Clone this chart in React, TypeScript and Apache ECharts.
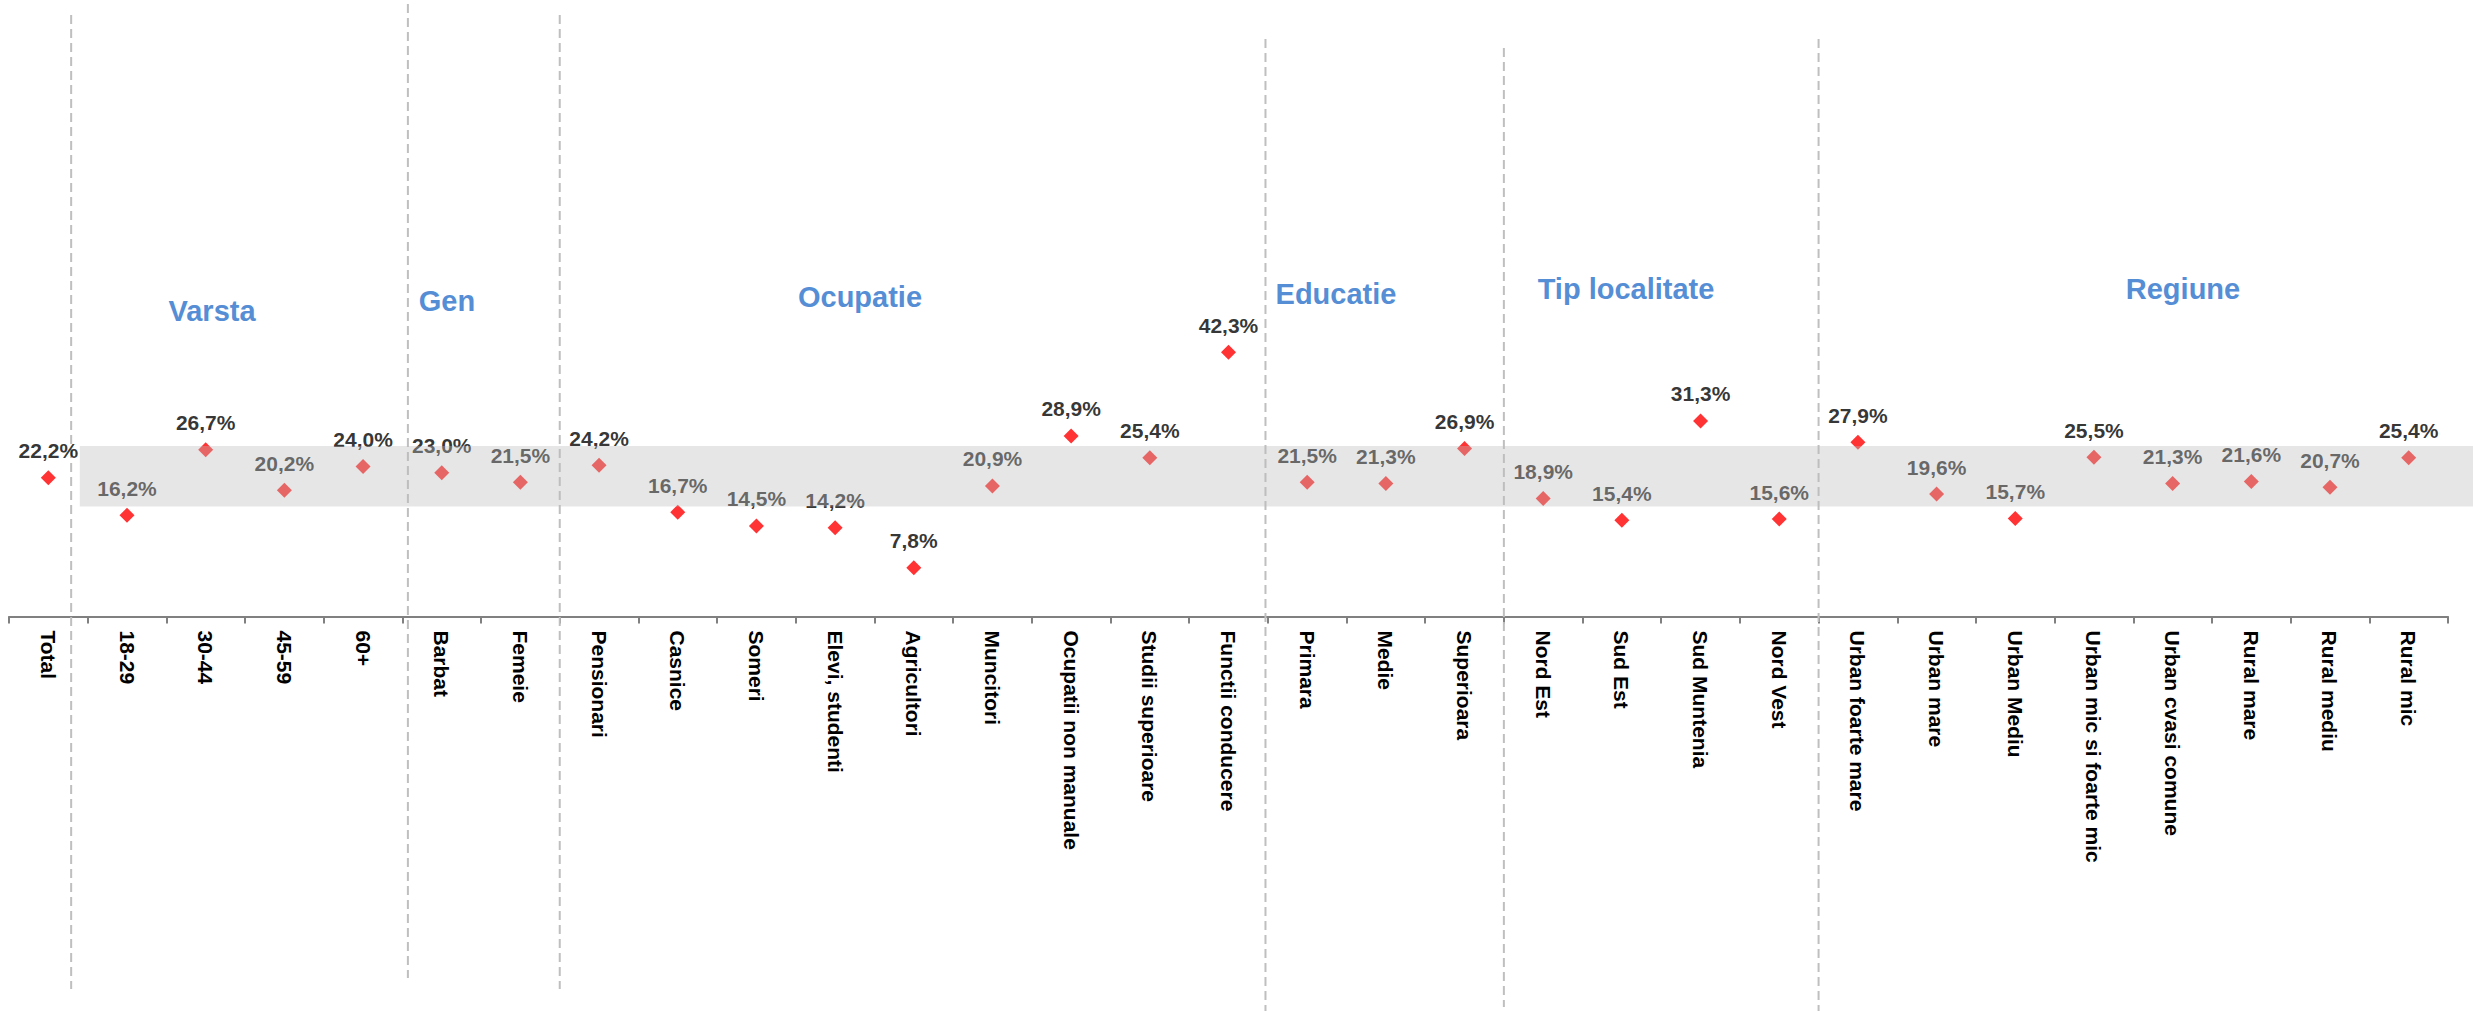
import React, { useEffect, useRef } from "react";
import * as echarts from "echarts";

// ---- data ----
const CATEGORIES: string[] = [
  "Total",
  "18-29", "30-44", "45-59", "60+",
  "Barbat", "Femeie",
  "Pensionari", "Casnice", "Someri", "Elevi, studenti", "Agricultori", "Muncitori",
  "Ocupatii non manuale", "Studii superioare", "Functii conducere",
  "Primara", "Medie", "Superioara",
  "Nord Est", "Sud Est", "Sud Muntenia", "Nord Vest",
  "Urban foarte mare", "Urban mare", "Urban Mediu", "Urban mic si foarte mic",
  "Urban cvasi comune", "Rural mare", "Rural mediu", "Rural mic",
];

const VALUES: number[] = [
  22.2,
  16.2, 26.7, 20.2, 24.0,
  23.0, 21.5,
  24.2, 16.7, 14.5, 14.2, 7.8, 20.9,
  28.9, 25.4, 42.3,
  21.5, 21.3, 26.9,
  18.9, 15.4, 31.3, 15.6,
  27.9, 19.6, 15.7, 25.5,
  21.3, 21.6, 20.7, 25.4,
];

// confidence band around the total (percent)
const BAND_LOW = 17.6;
const BAND_HIGH = 27.3;

const GROUP_TITLES: string[] = ["Varsta", "Gen", "Ocupatie", "Educatie", "Tip localitate", "Regiune"];

// ---- layout / style (not data) ----
const W = 2473;
const H = 1011;
const TITLE_POS: [number, number][] = [
  [212, 311], [447, 301], [860, 297], [1336, 294], [1626, 289], [2183, 289],
];
// separator positions expressed in category units, with vertical extents in px
const SEPARATORS: { pos: number; top: number; bottom: number }[] = [
  { pos: 0.29, top: 15, bottom: 989 },
  { pos: 4.57, top: 4, bottom: 978 },
  { pos: 6.5, top: 15, bottom: 989 },
  { pos: 15.47, top: 39, bottom: 1011 },
  { pos: 18.5, top: 48, bottom: 1007 },
  { pos: 22.5, top: 39, bottom: 1011 },
];

const FONT = "'Liberation Sans', Arial, Helvetica, sans-serif";
const fmt = (v: number) => v.toFixed(1).replace(".", ",") + "%";

export default function App() {
  const ref = useRef<HTMLDivElement>(null);

  useEffect(() => {
    if (!ref.current) return;
    const chart = echarts.init(ref.current, undefined, { renderer: "svg" });

    const option: any = {
      animation: false,
      backgroundColor: "#ffffff",
      grid: { left: 9, right: 25, top: 54, bottom: 394.5, containLabel: false },
      xAxis: {
        type: "category",
        data: CATEGORIES,
        boundaryGap: true,
        axisLine: { show: true, lineStyle: { color: "#808080", width: 2 } },
        axisTick: { show: true, length: 7, lineStyle: { color: "#808080", width: 2 } },
        axisLabel: {
          interval: 0,
          rotate: -90,
          margin: 14,
          color: "#000000",
          fontFamily: FONT,
          fontWeight: "bold",
          fontSize: 21,
        },
        splitLine: { show: false },
      },
      yAxis: {
        type: "value",
        min: 0,
        max: 90,
        show: false,
        splitLine: { show: false },
      },
      series: [
        {
          type: "custom",
          name: "separators",
          silent: true,
          z: 1,
          data: [[0, 0]],
          encode: { x: 0, y: 1 },
          renderItem: (params: any, api: any) => {
            const bw = api.size([1, 0])[0];
            const children = SEPARATORS.map((s) => {
              const base = Math.floor(s.pos);
              const x = api.coord([base, 0])[0] + (s.pos - base) * bw;
              return {
                type: "line",
                shape: { x1: x, y1: s.top, x2: x, y2: s.bottom },
                style: { stroke: "#BFBFBF", lineWidth: 2, lineDash: [9, 5] },
              };
            });
            return { type: "group", children };
          },
        },
        {
          type: "scatter",
          name: "values",
          z: 3,
          data: VALUES,
          symbol: "diamond",
          symbolSize: 15,
          itemStyle: { color: "#FF0000" },
          label: {
            show: true,
            position: "top",
            distance: 9,
            color: "#000000",
            fontFamily: FONT,
            fontWeight: "bold",
            fontSize: 21,
            formatter: (p: any) => fmt(p.value),
          },
        },
        {
          type: "custom",
          name: "band",
          silent: true,
          z: 20,
          data: [[0, BAND_LOW, BAND_HIGH]],
          encode: { x: 0, y: [1, 2] },
          renderItem: (params: any, api: any) => {
            const bw = api.size([1, 0])[0];
            const hi = api.coord([0, BAND_HIGH]);
            const lo = api.coord([0, BAND_LOW]);
            const x0 = hi[0] + bw * 0.4;
            return {
              type: "rect",
              shape: { x: x0, y: hi[1], width: api.getWidth() - x0, height: lo[1] - hi[1] },
              style: { fill: "rgba(188,188,188,0.373)" },
            };
          },
        },
      ],
      graphic: GROUP_TITLES.map((t, i) => ({
        type: "text",
        x: TITLE_POS[i][0],
        y: TITLE_POS[i][1],
        z: 30,
        style: {
          text: t,
          fill: "#558ED5",
          font: `bold 29px ${FONT}`,
          textAlign: "center",
          textVerticalAlign: "middle",
        },
      })),
    };

    chart.setOption(option);
    return () => chart.dispose();
  }, []);

  return (
    <div
      ref={ref}
      style={{ position: "fixed", left: 0, top: 0, width: W + "px", height: H + "px" }}
    />
  );
}
